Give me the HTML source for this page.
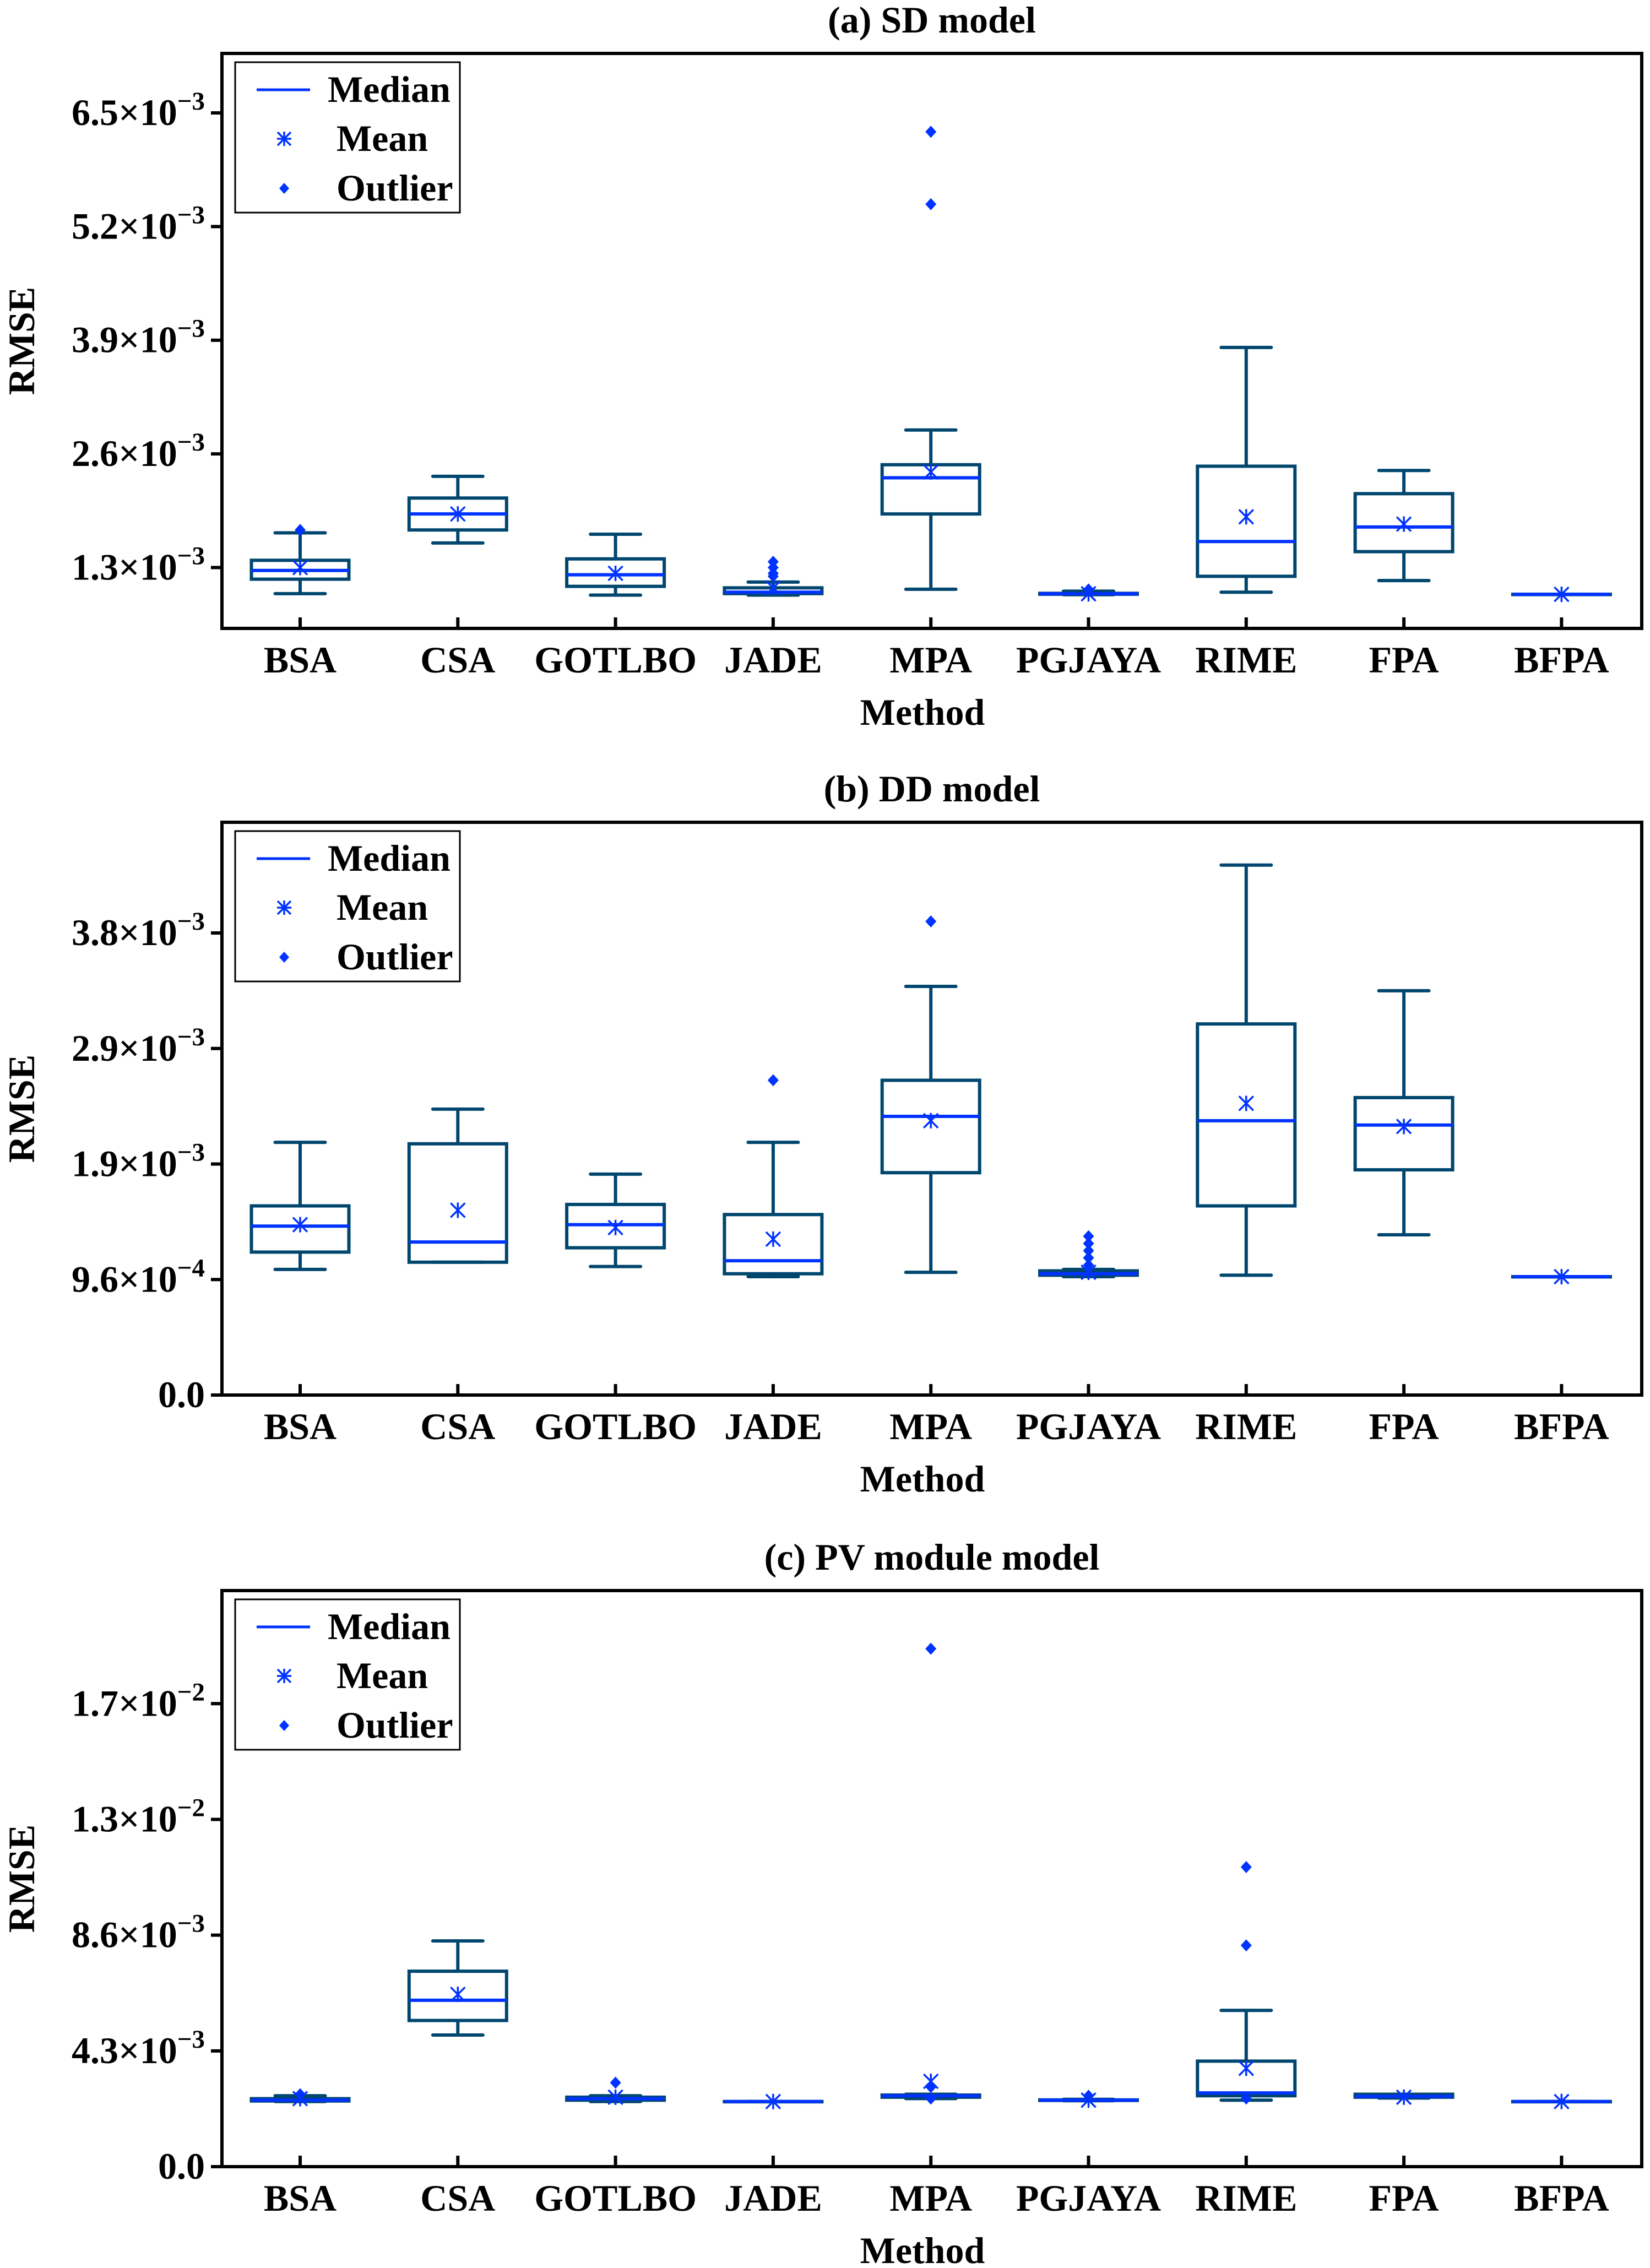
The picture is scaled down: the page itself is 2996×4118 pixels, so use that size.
<!DOCTYPE html>
<html><head><meta charset="utf-8"><style>
html,body{margin:0;padding:0;background:#fff;}
svg text{font-family:"Liberation Serif",serif;font-weight:bold;fill:#000;}
</style></head><body>
<svg id="chart" xmlns="http://www.w3.org/2000/svg" width="2996" height="4113" viewBox="0 0 2996 4113"></svg>
<script>
const categories = ["BSA","CSA","GOTLBO","JADE","MPA","PGJAYA","RIME","FPA","BFPA"];
// values in units of 1e-3: [whiskerLow, q1, median, q3, whiskerHigh]
const sdBoxes = [[1.002,1.167,1.267,1.383,1.697],[1.581,1.73,1.913,2.095,2.343],[0.985,1.085,1.217,1.399,1.681],[0.985,1.002,1.018,1.068,1.134],[1.052,1.913,2.327,2.476,2.873],[0.99,0.995,1.0,1.005,1.03],[1.018,1.2,1.598,2.459,3.817],[1.151,1.482,1.764,2.145,2.41],[0.994,0.994,0.994,0.994,0.994]];
const sdMeans = [1.30,1.913,1.234,1.068,2.393,1.0,1.88,1.797,0.994];
const sdOutliers = [[1.73],[],[],[1.366,1.30,1.234,1.20],[6.284,5.456],[1.05],[],[],[]];
const sdTicks = [1.3,2.6,3.9,5.2,6.5];
const sdTickLabels = ["1.3","2.6","3.9","5.2","6.5"];

const ddBoxes = [[1.044,1.188,1.404,1.572,2.10],[1.104,1.104,1.272,2.088,2.376],[1.068,1.224,1.416,1.584,1.836],[0.984,1.008,1.116,1.50,2.10],[1.02,1.848,2.316,2.616,3.396],[0.984,0.996,1.008,1.032,1.044],[0.996,1.572,2.28,3.084,4.404],[1.332,1.872,2.244,2.472,3.36],[0.984,0.984,0.984,0.984,0.984]];
const ddMeans = [1.416,1.536,1.392,1.296,2.28,1.02,2.424,2.232,0.984];
const ddOutliers = [[],[],[],[2.616],[3.936],[1.32,1.26,1.20,1.14,1.08],[],[],[]];
const ddTicks = [0,0.96,1.92,2.88,3.84];
const ddTickLabels = ["0.0","9.6","1.9","2.9","3.8"];
const ddTickExp = ["", "−4","−3","−3","−3"];

const pvBoxes = [[2.419,2.44,2.47,2.526,2.634],[4.89,5.43,6.18,7.26,8.385],[2.419,2.47,2.526,2.58,2.634],[2.42,2.42,2.42,2.42,2.42],[2.53,2.58,2.634,2.66,2.69],[2.45,2.46,2.47,2.48,2.5],[2.47,2.634,2.74,3.92,5.805],[2.55,2.58,2.61,2.69,2.69],[2.42,2.42,2.42,2.42,2.42]];
const pvMeans = [2.526,6.40,2.58,2.42,3.17,2.47,3.655,2.58,2.42];
const pvOutliers = [[2.69],[],[3.12],[],[19.24,2.96,2.53],[2.634],[11.13,8.22,2.53],[],[]];
const pvTicks = [0,4.3,8.6,12.9,17.2];
const pvTickLabels = ["0.0","4.3","8.6","1.3","1.7"];
const pvTickExp = ["","−3","−3","−2","−2"];

const NS="http://www.w3.org/2000/svg";
const svg=document.getElementById('chart');
const BOX="#00466e", BLUE="#0033ff";
function mk(tag,attrs,parent){const e=document.createElementNS(NS,tag);for(const k in attrs)e.setAttribute(k,attrs[k]);(parent||svg).appendChild(e);return e;}

const L=403,R=2981,X0=545,DX=286.3,BW=177,CW=91,FS=68;
function xPos(i){return X0+i*DX;}

function panel(cfg){
  const g=mk('g',{});
  
  
  const T=cfg.top,B=cfg.bottom;
  const y=v=>B-(v-cfg.min)/(cfg.max-cfg.min)*(B-T);
  const tt=mk('text',{x:1692,y:T-38,'font-size':FS,'text-anchor':'middle'},g);tt.textContent=cfg.title;
  
  
  cfg.ticks.forEach((t,i)=>{
    const yy=y(t);
    const tk=mk('line',{x1:L-20,x2:L,y1:yy,y2:yy,stroke:'#000','stroke-width':6},g);
    
    
    const tx=mk('text',{x:372,y:yy+22,'font-size':FS,'text-anchor':'end'},g);
    
    
    if(cfg.exp[i]){
      const a=mk('tspan',{},tx);a.textContent=cfg.labels[i]+"×10";
      const b=mk('tspan',{dy:-28,'font-size':47},tx);b.textContent=cfg.exp[i];
    } else tx.textContent=cfg.labels[i];
  });
  categories.forEach((c,i)=>{
    const x=xPos(i),d=cfg.boxes[i];
    const bg=mk('g',{},g);
    
    
    const st={stroke:BOX,'stroke-width':6,'stroke-linecap':'round',fill:'none'};
    mk('line',Object.assign({x1:x,x2:x,y1:y(d[0]),y2:y(d[1])},st),bg);
    mk('line',Object.assign({x1:x,x2:x,y1:y(d[3]),y2:y(d[4])},st),bg);
    mk('line',Object.assign({x1:x-CW/2,x2:x+CW/2,y1:y(d[0]),y2:y(d[0])},st),bg);
    mk('line',Object.assign({x1:x-CW/2,x2:x+CW/2,y1:y(d[4]),y2:y(d[4])},st),bg);
    mk('rect',Object.assign({x:x-BW/2,y:y(d[3]),width:BW,height:Math.max(0.5,y(d[1])-y(d[3]))},st,{'stroke-linecap':'butt'}),bg);
    const md=mk('line',{x1:x-BW/2,x2:x+BW/2,y1:y(d[2]),y2:y(d[2]),stroke:BLUE,'stroke-width':6},bg);
    
    
    cfg.outliers[i].forEach(o=>{
      const yy=y(o);
      const p=mk('polygon',{points:`${x},${yy-11} ${x+10},${yy} ${x},${yy+11} ${x-10},${yy}`,fill:BLUE},bg);
      
      
    });
    const m=cfg.means[i],my=y(m);
    const ms=mk('g',{stroke:BLUE,'stroke-width':3.5},bg);
    
    
    mk('line',{x1:x,x2:x,y1:my-14,y2:my+14},ms);
    mk('line',{x1:x-13,x2:x+13,y1:my-13,y2:my+13},ms);
    mk('line',{x1:x-13,x2:x+13,y1:my+13,y2:my-13},ms);
    const xt=mk('line',{x1:x,x2:x,y1:B,y2:B-20,stroke:'#000','stroke-width':6},g);
    
    
    const xl=mk('text',{x:x,y:B+80,'font-size':FS,'text-anchor':'middle'},g);xl.textContent=c;
    
    
  });
  const fr=mk('rect',{x:L,y:T,width:R-L,height:B-T,fill:'none',stroke:'#000','stroke-width':6},g);
  
  
  const xa=mk('text',{x:1675,y:B+175,'font-size':FS,'text-anchor':'middle'},g);xa.textContent="Method";
  
  
  const cy=(T+B)/2;
  const ya=mk('text',{x:0,y:0,'font-size':FS,'text-anchor':'middle',transform:`translate(62,${cy}) rotate(-90)`},g);ya.textContent="RMSE";
  
  
  const lg=mk('g',{},g);
  
  
  mk('rect',{x:427,y:T+16,width:408,height:273,fill:'#fff',stroke:'#000','stroke-width':3},lg);
  const rows=[["Median",T+66,595],["Mean",T+155,611],["Outlier",T+245,611]];
  mk('line',{x1:466,x2:563,y1:rows[0][1],y2:rows[0][1],stroke:BLUE,'stroke-width':5},lg);
  const lx=516,ly=rows[1][1];
  const lm=mk('g',{stroke:BLUE,'stroke-width':3.5},lg);
  mk('line',{x1:lx,x2:lx,y1:ly-13,y2:ly+13},lm);
  mk('line',{x1:lx-12,x2:lx+12,y1:ly-12,y2:ly+12},lm);
  mk('line',{x1:lx-12,x2:lx+12,y1:ly+12,y2:ly-12},lm);
  mk('line',{x1:lx-13,x2:lx+13,y1:ly,y2:ly},lm);
  const oy=rows[2][1];
  mk('polygon',{points:`${lx},${oy-10} ${lx+9},${oy} ${lx},${oy+10} ${lx-9},${oy}`,fill:BLUE},lg);
  rows.forEach(r=>{const t=mk('text',{x:r[2],y:r[1]+22,'font-size':FS},lg);t.textContent=r[0];
    
    });
}
panel({name:'panel-sd-model',title:'(a) SD model',top:97,bottom:1141,min:0.604,max:7.18,boxes:sdBoxes,means:sdMeans,outliers:sdOutliers,ticks:sdTicks,labels:sdTickLabels,exp:["−3","−3","−3","−3","−3"]});
panel({name:'panel-dd-model',title:'(b) DD model',top:1493,bottom:2533,min:0,max:4.76,boxes:ddBoxes,means:ddMeans,outliers:ddOutliers,ticks:ddTicks,labels:ddTickLabels,exp:ddTickExp});
panel({name:'panel-pv-module-model',title:'(c) PV module model',top:2888,bottom:3934,min:0,max:21.4,boxes:pvBoxes,means:pvMeans,outliers:pvOutliers,ticks:pvTicks,labels:pvTickLabels,exp:pvTickExp});
</script>
</body></html>
